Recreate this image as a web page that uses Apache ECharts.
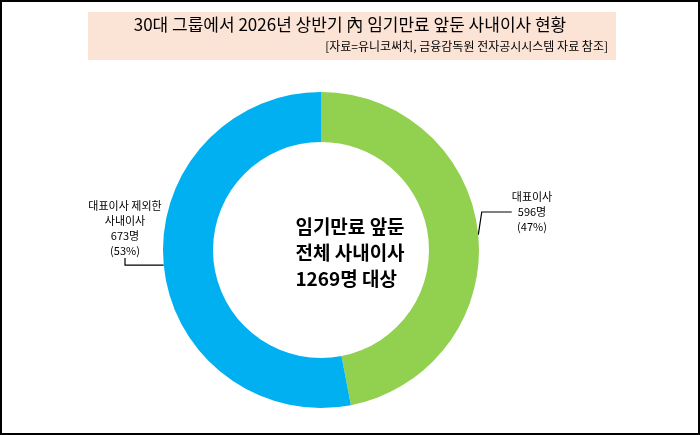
<!DOCTYPE html>
<html><head><meta charset="utf-8">
<script src="https://cdn.jsdelivr.net/npm/echarts@6/dist/echarts.min.js"></script>
<style>html,body{margin:0;padding:0;background:#fff}#c{width:700px;height:435px;box-sizing:border-box;border:2px solid #000}</style>
</head><body><div id="c"></div>
<script>
const categories = ['대표이사', '대표이사 제외한\n사내이사'];
const values = [596, 673];
const percents = [47, 53];
const colors = ['#92D050', '#00B0F0'];
const labelPos = [{x:530,y:210},{x:123,y:226}];
const chart = echarts.init(document.getElementById('c'));
const font = '"Noto Sans CJK KR", serif';
chart.setOption({
  animation:false,
  graphic:[
    {type:'rect',shape:{x:86,y:10,width:528,height:48},style:{fill:'#FBE3D6'}},
    {type:'text',left:'center',top:14,style:{text:'30대 그룹에서 2026년 상반기 內 임기만료 앞둔 사내이사 현황',font:'17px '+font,fill:'#000'}},
    {type:'text',right:90,top:38,style:{text:'[자료=유니코써치, 금융감독원 전자공시시스템 자료 참조]',font:'12px '+font,fill:'#000'}},
    {type:'text',left:'center',top:212,style:{text:'임기만료 앞둔\n전체 사내이사\n1269명 대상',font:'bold 19px '+font,fill:'#000',align:'center',lineHeight:26}}
  ],
  series:[{
    type:'pie',center:[319,248],radius:[108,158],startAngle:90,clockwise:true,
    label:{show:true,color:'#000',fontFamily:font,fontSize:11,lineHeight:15,align:'center',
      formatter:p=>p.name+'\n'+p.value+'명\n('+percents[p.dataIndex]+'%)'},
    labelLine:{show:true,length:10,length2:30,lineStyle:{color:'#000',width:1.2}},
    labelLayout:p=>({x:labelPos[p.dataIndex].x,y:labelPos[p.dataIndex].y,align:'center',verticalAlign:'middle'}),
    data:categories.map((c,i)=>({name:c,value:values[i],itemStyle:{color:colors[i]}}))
  }]
});
</script></body></html>
